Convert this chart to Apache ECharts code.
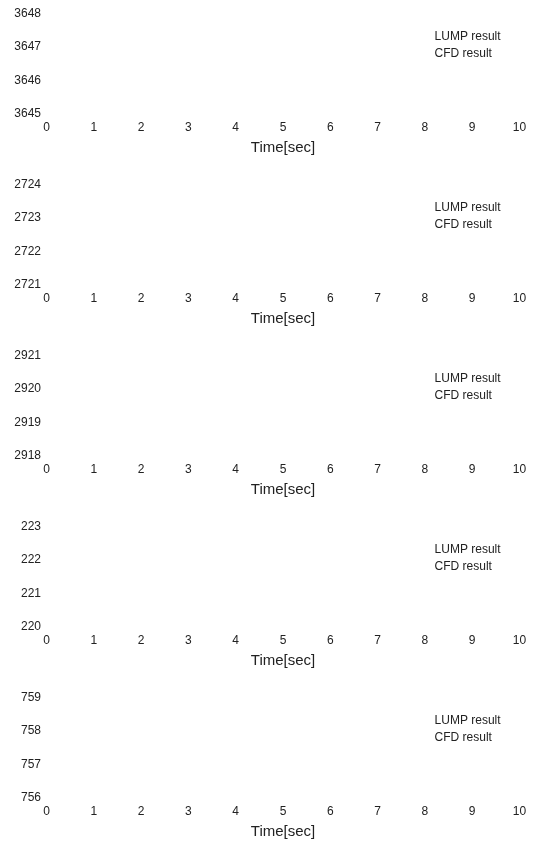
<!DOCTYPE html>
<html>
<head>
<meta charset="utf-8">
<script src="https://cdn.jsdelivr.net/npm/echarts@6/dist/echarts.min.js"></script>
<style>
  html, body { margin: 0; padding: 0; background: #fff; }
  #main { width: 537px; height: 841px; }
</style>
</head>
<body>
<div id="main"></div>
<script>
// x axis (time)
var timeTicks = [0, 1, 2, 3, 4, 5, 6, 7, 8, 9, 10];
// y ranges of the five panels
var yMins = [3645, 2721, 2918, 220, 756];
var yMaxs = [3648, 2724, 2921, 223, 759];
// series names
var seriesNames = ['LUMP result', 'CFD result'];
// series values (nothing is drawn in the reference)
var lumpData = [[], [], [], [], []];
var cfdData = [[], [], [], [], []];

var chart = echarts.init(document.getElementById('main'));
var font = 'Liberation Sans';

var grids = [], xAxes = [], yAxes = [], series = [], legends = [];
for (var i = 0; i < 5; i++) {
    var gridTop = 14 + 171 * i;
    grids.push({ left: 46.5, right: 17.5, top: gridTop, height: 99.5 });
    xAxes.push({
        type: 'value', gridIndex: i,
        min: timeTicks[0], max: timeTicks[timeTicks.length - 1], interval: 1,
        name: 'Time[sec]', nameLocation: 'middle', nameGap: 27,
        nameTextStyle: { fontSize: 15, color: '#222', fontFamily: font },
        axisLine: { show: false }, axisTick: { show: false }, splitLine: { show: false },
        axisLabel: { fontSize: 12, color: '#222', fontFamily: font, margin: 8 }
    });
    yAxes.push({
        type: 'value', gridIndex: i,
        min: yMins[i], max: yMaxs[i], interval: 1,
        axisLine: { show: false }, axisTick: { show: false }, splitLine: { show: false },
        axisLabel: {
            fontSize: 12, color: '#222', fontFamily: font, margin: 5.5,
            formatter: function (v) { return String(v); }
        }
    });
    series.push({
        name: seriesNames[0], type: 'line', xAxisIndex: i, yAxisIndex: i,
        data: lumpData[i], showSymbol: false, color: 'rgba(0,0,0,0)'
    });
    series.push({
        name: seriesNames[1], type: 'line', xAxisIndex: i, yAxisIndex: i,
        data: cfdData[i], showSymbol: false, color: 'rgba(0,0,0,0)'
    });
    legends.push({
        data: seriesNames, orient: 'vertical', left: 417, top: gridTop + 11,
        itemWidth: 2, itemHeight: 14, itemGap: 4,
        textStyle: { fontSize: 12, color: '#222', fontFamily: font }
    });
}

chart.setOption({
    animation: false,
    grid: grids,
    xAxis: xAxes,
    yAxis: yAxes,
    legend: legends,
    series: series
});
</script>
</body>
</html>
